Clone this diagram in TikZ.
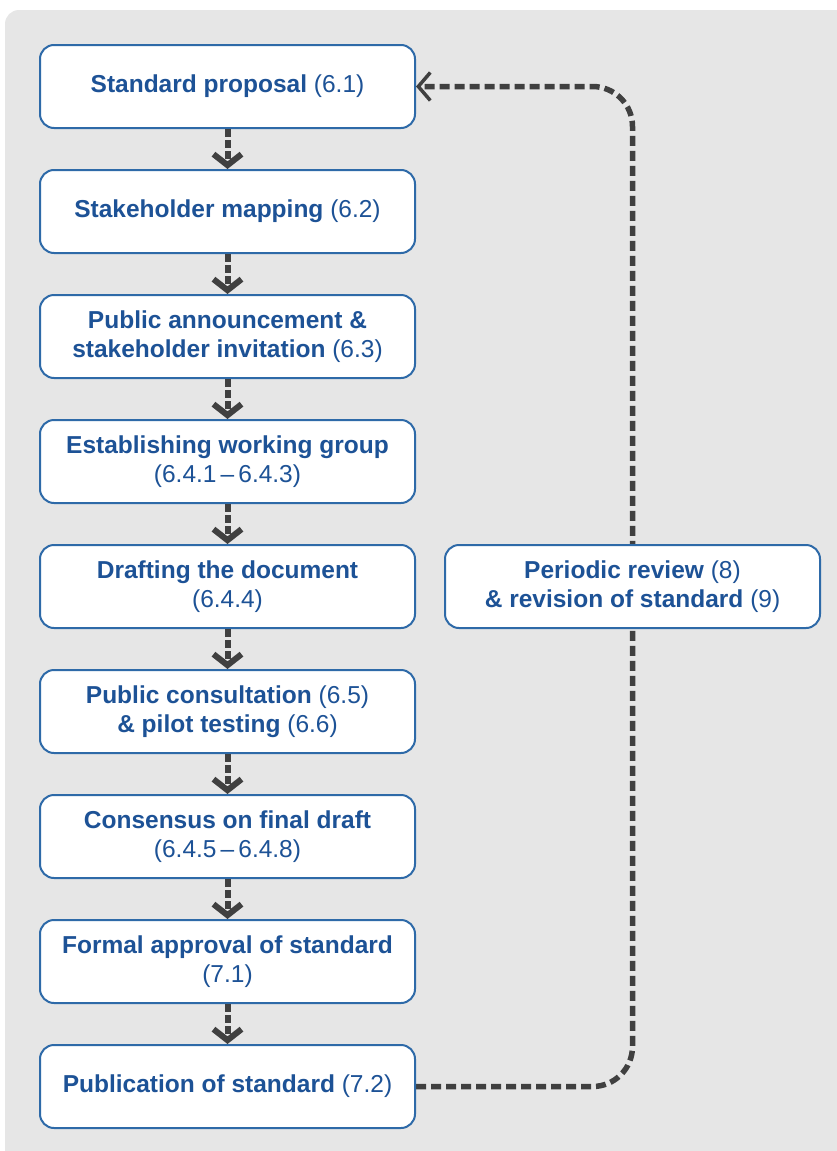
\documentclass[tikz,border=0pt]{standalone}
\usepackage{fontspec}
\setmainfont{Liberation Sans}
\usetikzlibrary{arrows.meta,backgrounds}
\definecolor{bgc}{HTML}{E6E6E6}
\definecolor{boxc}{HTML}{2E6AA8}
\definecolor{txtc}{HTML}{1D5296}
\definecolor{arrc}{HTML}{404040}
\tikzset{
  stepbox/.style={draw=boxc, line width=2pt, fill=white, rounded corners=14pt,
    minimum width=375pt, minimum height=83pt, align=center, text=txtc,
    font=\fontsize{24.5}{29}\selectfont, inner sep=0pt},
  flow/.style={draw=arrc, line width=6pt, dash pattern=on 8pt off 3pt,
    -{Straight Barb[length=11pt,width=28pt,line width=6pt]}},
  feedback/.style={draw=arrc, line width=5.5pt, dash pattern=on 10pt off 5pt,
    rounded corners=40pt,
    -{Straight Barb[length=12pt,width=28pt,line width=3.5pt]}}
}
\begin{document}
\begin{tikzpicture}[x=1pt,y=-1pt]
\useasboundingbox (0,0) rectangle (836,1151);
\node[stepbox] (s1) at (227.5,86.5) {\textbf{Standard proposal} (6.1)};
\node[stepbox] (s2) at (227.5,211.5) {\textbf{Stakeholder mapping} (6.2)};
\node[stepbox] (s3) at (227.5,336.5) {\textbf{Public announcement \&}\\\textbf{stakeholder invitation} (6.3)};
\node[stepbox] (s4) at (227.5,461.5) {\textbf{Establishing working group}\\(6.4.1\,--\,6.4.3)};
\node[stepbox] (s5) at (227.5,586.5) {\textbf{Drafting the document}\\(6.4.4)};
\node[stepbox] (s6) at (227.5,711.5) {\textbf{Public consultation} (6.5)\\\textbf{\& pilot testing} (6.6)};
\node[stepbox] (s7) at (227.5,836.5) {\textbf{Consensus on final draft}\\(6.4.5\,--\,6.4.8)};
\node[stepbox] (s8) at (227.5,961.5) {\textbf{Formal approval of standard}\\(7.1)};
\node[stepbox] (s9) at (227.5,1086.5) {\textbf{Publication of standard} (7.2)};
\node[stepbox] (rev) at (632.5,586.5) {\textbf{Periodic review} (8)\\\textbf{\& revision of standard} (9)};
\foreach \a/\b in {s1/s2,s2/s3,s3/s4,s4/s5,s5/s6,s6/s7,s7/s8,s8/s9}
  \draw[flow] (\a.south) -- (\b.north);
\begin{scope}[on background layer]
  \fill[bgc, rounded corners=14pt] (5,10) rectangle (900,1200);
  \draw[feedback] (s9.east) -| (rev.center) |- (s1.east);
\end{scope}
\end{tikzpicture}
\end{document}
